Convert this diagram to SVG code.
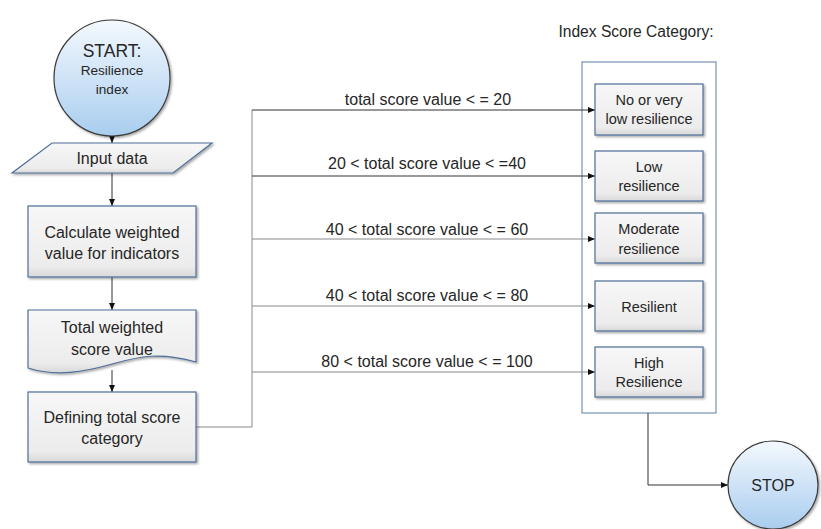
<svg xmlns="http://www.w3.org/2000/svg" width="821" height="529" viewBox="0 0 821 529">
<style>
text{font-family:"Liberation Sans",Arial,sans-serif;fill:#262626;text-anchor:middle}
.lt{font-size:16px}
.rt{font-size:14.5px}
.cl{font-size:16px}
.box{fill:url(#gBox);stroke:#4f6f99;stroke-width:1.2;filter:url(#sh)}
.circ{fill:url(#gCirc);stroke:#3a3a3a;stroke-width:1.2;filter:url(#sh)}
.c{fill:none;stroke:#333;stroke-width:1}
.cg{fill:none;stroke:#8a8a8a;stroke-width:1}
</style>
<defs>
<linearGradient id="gBox" x1="0" y1="0" x2="0" y2="1">
<stop offset="0" stop-color="#f7f7f7"/><stop offset="0.85" stop-color="#ececec"/><stop offset="1" stop-color="#d8d8d8"/>
</linearGradient>
<linearGradient id="gCirc" x1="0" y1="0" x2="0" y2="1">
<stop offset="0" stop-color="#f4f9fe"/><stop offset="1" stop-color="#a9cdef"/>
</linearGradient>
<filter id="sh" x="-10%" y="-10%" width="130%" height="130%">
<feDropShadow dx="1.5" dy="1.5" stdDeviation="1" flood-color="#000" flood-opacity="0.35"/>
</filter>
<marker id="ah" markerWidth="8" markerHeight="8" refX="7" refY="4" orient="auto" markerUnits="userSpaceOnUse">
<path d="M0,1 L7,4 L0,7 Z" fill="#111"/>
</marker>
</defs>

<g id="category">
<text x="636" y="37" style="font-size:15.6px">Index Score Category:</text>
<rect x="582" y="62" width="134" height="351" fill="#fff" stroke="#5a7ca6" stroke-width="1"/>
</g>

<g id="connectors">
<line class="c" x1="112" y1="135" x2="112" y2="143" marker-end="url(#ah)"/>
<line class="c" x1="112" y1="173" x2="112" y2="206" marker-end="url(#ah)"/>
<line class="c" x1="112" y1="277" x2="112" y2="310" marker-end="url(#ah)"/>
<line class="c" x1="112" y1="370" x2="112" y2="392" marker-end="url(#ah)"/>
<polyline class="cg" points="196,427 252,427 252,110"/>
<line class="c" x1="252" y1="110" x2="595" y2="110" marker-end="url(#ah)"/>
<line class="c" x1="252" y1="176" x2="595" y2="176" marker-end="url(#ah)"/>
<line class="cg" x1="252" y1="239" x2="595" y2="239" marker-end="url(#ah)"/>
<line class="cg" x1="252" y1="306" x2="595" y2="306" marker-end="url(#ah)"/>
<line class="cg" x1="252" y1="372" x2="595" y2="372" marker-end="url(#ah)"/>
<polyline class="c" points="648,413 648,485 728,485" marker-end="url(#ah)"/>
<text class="cl" x="428" y="105">total score value &lt; = 20</text>
<text class="cl" x="427" y="169">20 &lt; total score value &lt; =40</text>
<text class="cl" x="427" y="235">40 &lt; total score value &lt; = 60</text>
<text class="cl" x="427" y="301">40 &lt; total score value &lt; = 80</text>
<text class="cl" x="427" y="367">80 &lt; total score value &lt; = 100</text>
</g>

<g id="start">
<circle class="circ" cx="112" cy="78" r="58"/>
<text x="112" y="57" style="font-size:17.5px">START:</text>
<text x="112" y="75" style="font-size:13.6px">Resilience</text>
<text x="112" y="94" style="font-size:13.6px">index</text>
</g>

<g id="input">
<polygon class="box" points="52,143 212,143 173,173 12,173"/>
<text class="lt" x="112" y="164">Input data</text>
</g>

<g id="calculate">
<rect class="box" x="28" y="206" width="168" height="71"/>
<text class="lt" x="112" y="238">Calculate weighted</text>
<text class="lt" x="112" y="259">value for indicators</text>
</g>

<g id="total">
<path class="box" d="M28,310 H196 V362 C160,352 140,356 112,364 C84,372 56,377 28,368 Z"/>
<text class="lt" x="112" y="333">Total weighted</text>
<text class="lt" x="112" y="355">score value</text>
</g>

<g id="defining">
<rect class="box" x="28" y="392" width="168" height="70"/>
<text class="lt" x="112" y="423">Defining total score</text>
<text class="lt" x="112" y="444">category</text>
</g>

<g id="cat1">
<rect class="box" x="595" y="84" width="108" height="51"/>
<text class="rt" x="649" y="105">No or very</text>
<text class="rt" x="649" y="124">low resilience</text>
</g>
<g id="cat2">
<rect class="box" x="595" y="151" width="108" height="50"/>
<text class="rt" x="649" y="172">Low</text>
<text class="rt" x="649" y="191">resilience</text>
</g>
<g id="cat3">
<rect class="box" x="595" y="213" width="108" height="50"/>
<text class="rt" x="649" y="234">Moderate</text>
<text class="rt" x="649" y="254">resilience</text>
</g>
<g id="cat4">
<rect class="box" x="595" y="281" width="108" height="50"/>
<text class="rt" x="649" y="312">Resilient</text>
</g>
<g id="cat5">
<rect class="box" x="595" y="347" width="108" height="50"/>
<text class="rt" x="649" y="368">High</text>
<text class="rt" x="649" y="387">Resilience</text>
</g>

<g id="stop">
<ellipse class="circ" cx="773" cy="485" rx="45" ry="44"/>
<text x="773" y="491" style="font-size:16px">STOP</text>
</g>
</svg>
